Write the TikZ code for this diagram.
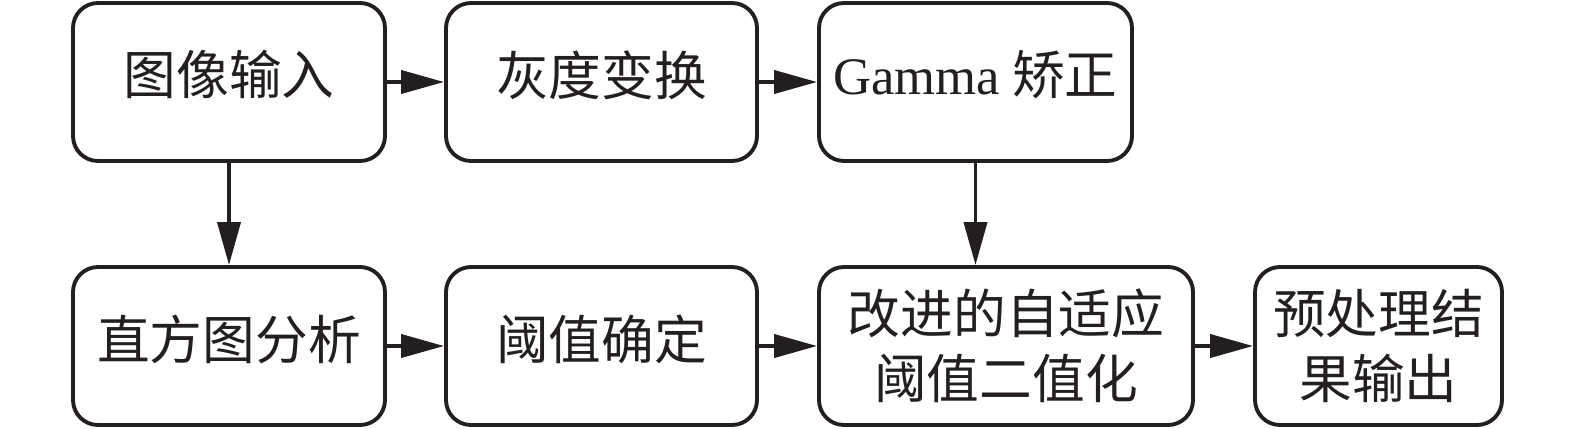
\documentclass[tikz,border=0pt]{standalone}
\usepackage{fontspec}
\setmainfont{Liberation Serif}
\newfontfamily\cjk{Noto Sans CJK SC}
\usepackage{tikz}
\usetikzlibrary{arrows.meta}
\definecolor{ink}{RGB}{35,31,32}

\tikzset{
  stepbox/.style={draw=ink, line width=2.2pt, rounded corners=0.5cm, minimum height=3.16cm,
    inner sep=0pt, align=center, text=ink, font=\cjk\fontsize{30}{37}\selectfont},
  oneline/.style={text depth=0.37cm},
  flow/.style={-{Triangle[length=0.86cm, width=0.46cm]}, draw=ink, line width=2.2pt}
}

\begin{document}
\begin{tikzpicture}
		  \useasboundingbox (0,0) rectangle (31.5,8.56);

		  % Nodes
		  \node[stepbox, oneline, minimum width=6.24cm] (input) at (4.58,6.92) {图像输入};
		  \node[stepbox, oneline, minimum width=6.22cm] (gray) at (12.03,6.92) {灰度变换};
		  \node[stepbox, oneline, minimum width=6.26cm] (gamma) at (19.51,6.92) {{\rmfamily Gamma} 矫正};
		  \node[stepbox, oneline, minimum width=6.24cm] (hist) at (4.58,1.64) {直方图分析};
		  \node[stepbox, oneline, minimum width=6.22cm] (thresh) at (12.03,1.64) {阈值确定};
		  \node[stepbox, minimum width=7.48cm] (binar) at (20.12,1.64) {改进的自适应\\阈值二值化};
		  \node[stepbox, minimum width=4.94cm] (output) at (27.57,1.64) {预处理结\\果输出};

		  % Arrows
		  \draw[flow] (input) -- (gray); % top row
		  \draw[flow] (gray) -- (gamma);
		  \draw[flow] (input) -- (hist); % down to histogram
		  \draw[flow] (gamma.south) -- (gamma.south |- binar.north); % down to binarization
		  \draw[flow] (hist) -- (thresh); % bottom row
		  \draw[flow] (thresh) -- (binar);
		  \draw[flow] (binar) -- (output);
		\end{tikzpicture}
\end{document}
